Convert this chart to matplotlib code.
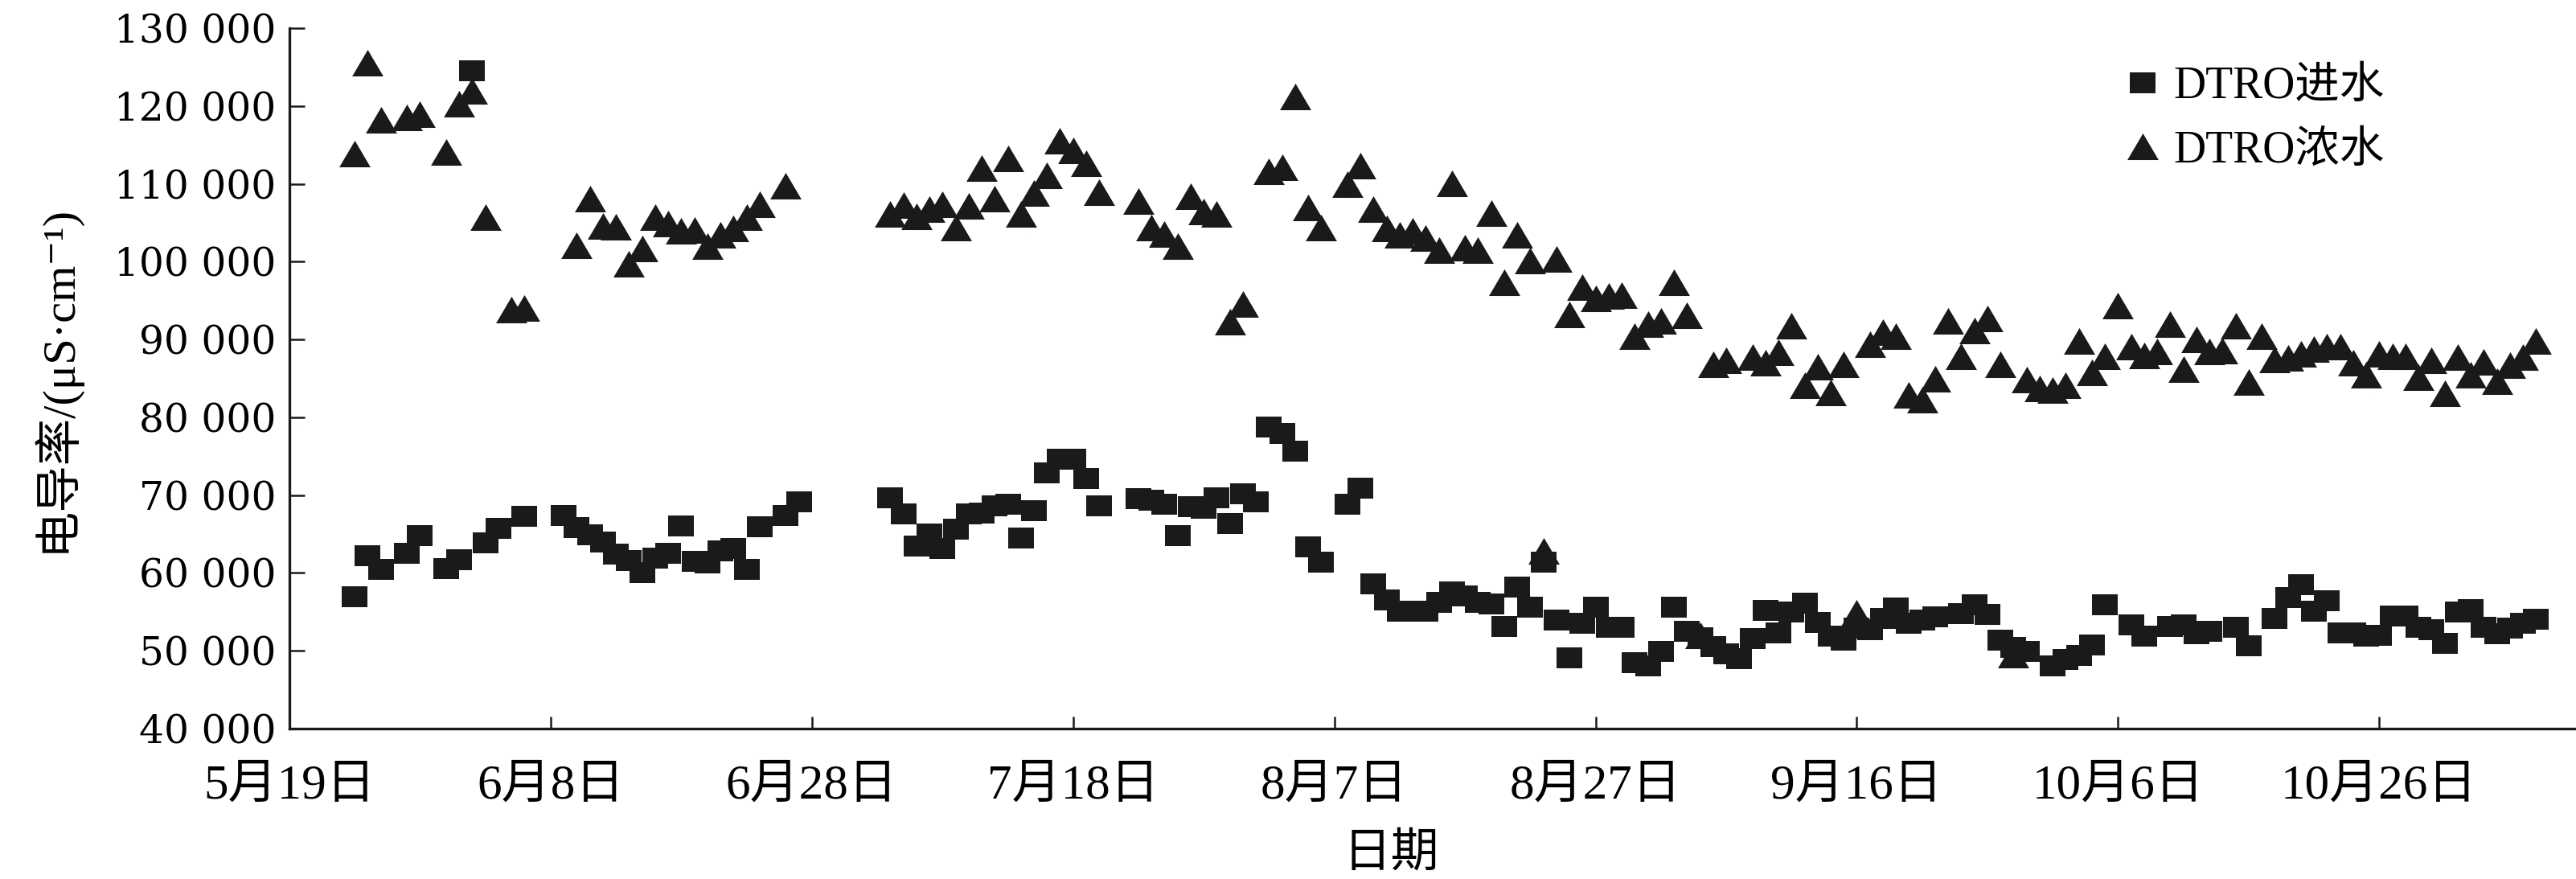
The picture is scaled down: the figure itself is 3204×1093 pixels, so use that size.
import numpy as np
import matplotlib
matplotlib.use("Agg")
import matplotlib.pyplot as plt
from matplotlib.path import Path

plt.rcParams["font.family"] = ["Liberation Serif", "Noto Sans CJK SC", "DejaVu Serif"]

# x positions are days counted from 5月19日
tick_days = [0, 20, 40, 60, 80, 100, 120, 140, 160]
tick_labels = ["5月19日", "6月8日", "6月28日", "7月18日", "8月7日",
               "8月27日", "9月16日", "10月6日", "10月26日"]

inlet_days = [5, 6, 7, 9, 10, 12, 13, 14, 15, 16, 18, 21, 22, 23, 24, 25, 26, 27, 28,
              29, 30, 31, 32, 33, 34, 35, 36, 38, 39,
              46, 47, 48, 49, 50, 51, 52, 53, 54, 55, 56, 57, 58, 59, 60, 61, 62,
              65, 66, 67, 68, 69, 70, 71, 72, 73, 74, 75, 76, 77, 78, 79, 81, 82,
              83, 84, 85, 86, 87, 88, 89, 90, 91, 92, 93, 94, 95, 96, 97, 98, 99, 100,
              101, 102, 103, 104, 105, 106, 107, 108, 109, 110, 111, 112, 113, 114,
              115, 116, 117, 118, 119, 120, 121, 122, 123, 124, 125, 126, 128, 129,
              130, 131, 132, 133, 135, 136, 137, 138, 139, 141, 142, 144, 145, 146,
              147, 149, 150, 152, 153, 154, 155, 156, 157, 158, 159, 160, 161, 162,
              163, 164, 165, 166, 167, 168, 169, 170, 171, 172]
inlet_vals = [56900, 62200, 60500, 62500, 64800, 60600, 61700, 124500, 63900, 65700,
              67300, 67400, 65800, 64900, 64000, 62400, 61600, 60000, 61900,
              62500, 66000, 61500, 61300, 62800, 63100, 60500, 65900, 67400, 69100,
              69700, 67600, 63500, 65000, 63100, 65600, 67600, 67700, 68600, 68800,
              64500, 68000, 72900, 74600, 74600, 72100, 68600,
              69600, 69300, 68800, 64800, 68500, 68300, 69700, 66300, 70200, 69100,
              78800, 77900, 75600, 63400, 61400, 68800, 70900,
              58600, 56500, 55100, 55100, 55100, 56200, 57600, 57100, 56200, 56000,
              53100, 58200, 55600, 61400, 53900, 49100, 53500, 55600,
              53000, 53000, 48500, 48100, 49900, 55600, 52500, 51700, 50500, 49600,
              49000, 51600, 55200, 52300,
              55000, 56100, 53600, 51900, 51400, 52900, 52700, 54200, 55500, 53500,
              54000, 54400, 54800, 55900,
              54700, 51400, 50400, 49900, 48100, 48900, 49400, 50700, 55900, 53300,
              51900, 53100, 53300, 52200,
              52500, 53000, 50600, 54200, 56800, 58500, 55100, 56400, 52300, 52300,
              51900, 52000, 54500, 54500,
              53000, 52700, 51000, 55000, 55300, 53000, 52200, 52900, 53500, 54100]

conc_days = [5, 6, 7, 9, 10, 12, 13, 14, 15, 17, 18, 22, 23, 24, 25, 26, 27, 28, 29,
             30, 31, 32, 33, 34, 35, 36, 38,
             46, 47, 48, 49, 50, 51, 52, 53, 54, 55, 56, 57, 58, 59, 60, 61, 62,
             65, 66, 67, 68, 69, 70, 71, 72, 73, 75, 76, 77, 78, 79, 81, 82,
             83, 84, 85, 86, 87, 88, 89, 90, 91, 92, 93, 94, 95, 96, 97, 98, 99, 100,
             101, 102, 103, 104, 105, 106, 107, 108, 109, 110, 112, 113, 114, 115,
             116, 117, 118, 119, 120, 121, 122, 123, 124, 125, 126, 127, 128, 129,
             130, 131, 132, 133, 134, 135, 136, 137, 138, 139, 140, 141, 142, 143,
             144, 145, 146, 147, 148, 149, 150, 151, 152, 153, 154, 155, 156, 157,
             158, 159, 160, 161, 162, 163, 164, 165, 166, 167, 168, 169, 170, 171, 172]
conc_vals = [113900, 125600, 118200, 118500, 118900, 114100, 120300, 121900, 105700,
             93800, 94000, 102100, 108100, 104600, 104500, 99700, 101700, 105700, 104900,
             104000, 104100, 102000, 103400, 104300, 105700, 107400, 109700,
             106100, 107300, 105800, 106800, 107400, 104400, 107200, 112000, 108100,
             113300, 106100, 108800, 111100, 115500, 114300, 112600, 108900,
             107800, 104400, 103500, 102000, 108400, 106400, 106100, 92300, 94600,
             111600, 112100, 121200, 107000, 104400, 110000, 112300,
             106800, 104300, 103400, 104000, 103000, 101500, 110100, 101800, 101500,
             106200, 97300, 103400, 100100, 62800, 100300, 93200, 96700, 95300,
             95600, 95700, 90400, 92000, 92400, 97300, 93100, 52000, 86800, 87300,
             87700, 87000, 88400, 91800,
             84100, 86500, 83200, 86800, 54900, 89400, 90900, 90400, 82900, 82300,
             84900, 92400, 87800, 91100,
             92700, 86800, 49500, 84800, 83700, 83500, 84100, 89800, 85800, 87800,
             94400, 89100, 87900, 88500,
             92000, 86200, 90000, 88500, 88600, 91800, 84500, 90400, 87400, 87600,
             88100, 88800, 89100, 89100,
             87000, 85500, 88200, 87800, 87800, 85200, 87300, 83100, 87700, 85500,
             87100, 84600, 86700, 87700, 89800]

series_labels = ["DTRO进水", "DTRO浓水"]

ink = "#1c1a19"
# markers in the source are a little wider than tall
square = Path([(-1, -0.84), (1, -0.84), (1, 0.84), (-1, 0.84), (-1, -0.84)],
              [Path.MOVETO, Path.LINETO, Path.LINETO, Path.LINETO, Path.CLOSEPOLY])
triangle = Path([(0, 0.85), (-1, -0.85), (1, -0.85), (0, 0.85)],
                [Path.MOVETO, Path.LINETO, Path.LINETO, Path.CLOSEPOLY])

W, H = 3205, 1093
fig = plt.figure(figsize=(W / 100, H / 100), dpi=100)
ax = fig.add_axes([360 / W, 1 - 906 / H, 2843 / W, 871 / H])

h1, = ax.plot(inlet_days, inlet_vals, ls="none", marker=square, ms=23,
              mfc=ink, mec=ink, mew=0, label=series_labels[0])
h2, = ax.plot(conc_days, conc_vals, ls="none", marker=triangle, ms=28,
              mfc=ink, mec=ink, mew=0, label=series_labels[1])

ax.set_xlim(0, 175)
ax.set_ylim(40000, 130000)

for side in ("top", "right"):
    ax.spines[side].set_visible(False)
for side in ("left", "bottom"):
    ax.spines[side].set_linewidth(2.4)
    ax.spines[side].set_color(ink)

yticks = np.arange(40000, 130001, 10000)
ax.set_yticks(yticks)
ax.set_yticklabels([f"{v:,}".replace(",", " ") for v in yticks])
for lab in ax.get_yticklabels():
    lab.set_fontfamily("DejaVu Serif")
ax.tick_params(axis="y", direction="in", length=14, width=1.8, pad=12,
               labelsize=35, color=ink)

ax.set_xticks(tick_days)
ax.set_xticklabels(tick_labels)
ax.tick_params(axis="x", direction="in", length=11, width=1.8, pad=32,
               labelsize=44, color=ink)

ax.set_xlabel("日期", fontsize=43)
ax.xaxis.set_label_coords(0.482, -0.15)
ax.set_ylabel("电导率/(μS·cm⁻¹)", fontsize=42)
ax.yaxis.set_label_coords(-0.092, 0.5)

ax.legend(handles=[h1, h2], loc="upper left", bbox_to_anchor=(2637 / W, 0.925),
          bbox_transform=fig.transFigure, frameon=False, fontsize=40,
          handlelength=1.0, handletextpad=0.2, labelspacing=0.5,
          borderpad=0, borderaxespad=0, numpoints=1)

fig.savefig("out.png", dpi=100)
